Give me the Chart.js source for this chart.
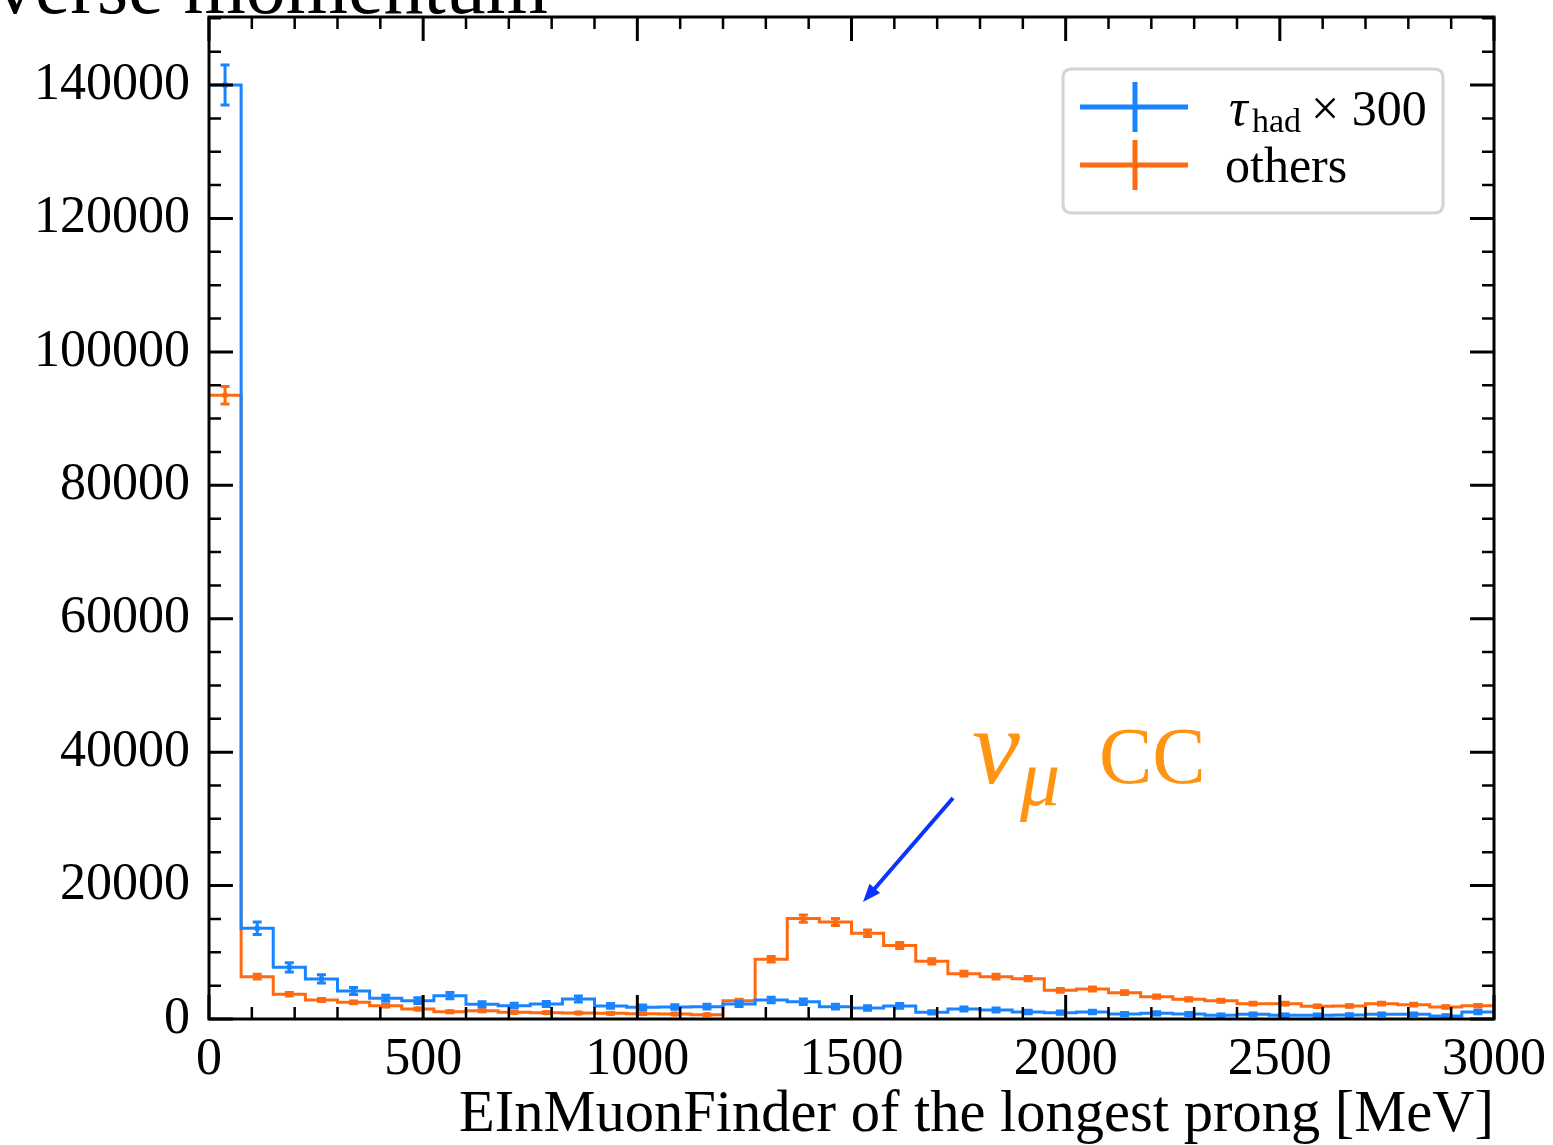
<!DOCTYPE html>
<html><head><meta charset="utf-8">
<script src="https://cdn.jsdelivr.net/npm/chart.js@4/dist/chart.umd.min.js"></script>
<style>html,body{margin:0;padding:0;background:#fff}#wrap{width:1553px;height:1145px;position:relative}</style>
</head><body><div id="wrap"><canvas id="c" width="1553" height="1145"></canvas></div>
<script>
// ---- data ----
const binEdges = [0,75,150,225,300,375,450,525,600,675,750,825,900,975,1050,1125,1200,1275,1350,1425,1500,1575,1650,1725,1800,1875,1950,2025,2100,2175,2250,2325,2400,2475,2550,2625,2700,2775,2850,2925,3000];
const tauHad = [140000,13600,7750,6000,4200,3100,2750,3500,2200,2000,2250,3000,1950,1750,1800,1850,2250,2850,2600,1850,1650,1950,1000,1500,1350,1050,950,1050,750,850,750,550,700,550,550,600,700,700,450,1050];
const tauHadErr = [2990,930,700,620,520,445,420,470,375,360,380,440,355,335,340,345,380,425,410,345,325,355,255,310,295,260,245,260,220,235,220,190,210,190,190,195,210,210,170,260];
const others = [93500,6350,3700,2850,2500,2000,1500,1100,1250,1000,950,900,850,800,750,650,2750,8950,15050,14550,12850,11000,8650,6800,6350,6050,4300,4500,3950,3350,2950,2750,2300,2300,1900,1950,2300,2150,1800,2000];
const othersErr = [1315,345,260,230,215,190,165,145,150,135,135,130,125,120,120,110,225,405,530,520,485,450,400,355,345,335,280,290,270,250,235,225,205,205,185,190,205,200,180,190];
const xTickLabels = [0,500,1000,1500,2000,2500,3000];
const yTickLabels = [0,20000,40000,60000,80000,100000,120000,140000];
const seriesNames = ['τ', 'others'];
const xTitle = 'EInMuonFinder of the longest prong [MeV]';

const BLUE = '#1a84ff';
const ORANGE = '#ff6a10';
const FONT = '"Liberation Serif", "DejaVu Serif", serif';

function stepPts(vals){
  const p = vals.map((v,i)=>({x:binEdges[i], y:v}));
  p.push({x:binEdges[binEdges.length-1], y:vals[vals.length-1]});
  return p;
}
function centerPts(vals){
  return vals.map((v,i)=>({x:(binEdges[i]+binEdges[i+1])/2, y:v}));
}

const errorBars = {
  id:'errorBars',
  afterDatasetDraw(chart, args){
    const ds = chart.data.datasets[args.index];
    if(!ds.errs) return;
    const ctx = chart.ctx, xs = chart.scales.x, ys = chart.scales.y, a = chart.chartArea;
    ctx.save();
    ctx.beginPath(); ctx.rect(a.left,a.top,a.right-a.left,a.bottom-a.top); ctx.clip();
    ctx.strokeStyle = ds.borderColor; ctx.lineWidth = 3;
    ds.data.forEach((p,i)=>{
      const x = xs.getPixelForValue(p.x);
      const y1 = ys.getPixelForValue(p.y - ds.errs[i]);
      const y2 = ys.getPixelForValue(p.y + ds.errs[i]);
      ctx.beginPath();
      ctx.moveTo(x,y1); ctx.lineTo(x,y2);
      ctx.moveTo(x-4.5,y1); ctx.lineTo(x+4.5,y1);
      ctx.moveTo(x-4.5,y2); ctx.lineTo(x+4.5,y2);
      ctx.stroke();
    });
    ctx.restore();
  }
};

const frameTicks = {
  id:'frameTicks',
  afterDraw(chart){
    const ctx = chart.ctx, xs = chart.scales.x, ys = chart.scales.y, a = chart.chartArea;
    ctx.save();
    ctx.strokeStyle = '#000';
    for(let v=0; v<=3000; v+=100){
      const x = xs.getPixelForValue(v);
      const major = v%500===0;
      const L = major?24:12;
      ctx.lineWidth = major?3:2.5;
      ctx.beginPath();
      ctx.moveTo(x,a.bottom); ctx.lineTo(x,a.bottom-L);
      ctx.moveTo(x,a.top); ctx.lineTo(x,a.top+L);
      ctx.stroke();
    }
    for(let v=0; v<=150000; v+=5000){
      const y = ys.getPixelForValue(v);
      const major = v%20000===0;
      const L = major?24:12;
      ctx.lineWidth = major?3:2.5;
      ctx.beginPath();
      ctx.moveTo(a.left,y); ctx.lineTo(a.left+L,y);
      ctx.moveTo(a.right,y); ctx.lineTo(a.right-L,y);
      ctx.stroke();
    }
    ctx.lineWidth = 3;
    ctx.strokeRect(a.left,a.top,a.right-a.left,a.bottom-a.top);

    // legend
    const bx=1063, by=69, bw=380, bh=144, r=9;
    ctx.beginPath();
    ctx.moveTo(bx+r,by); ctx.lineTo(bx+bw-r,by); ctx.quadraticCurveTo(bx+bw,by,bx+bw,by+r);
    ctx.lineTo(bx+bw,by+bh-r); ctx.quadraticCurveTo(bx+bw,by+bh,bx+bw-r,by+bh);
    ctx.lineTo(bx+r,by+bh); ctx.quadraticCurveTo(bx,by+bh,bx,by+bh-r);
    ctx.lineTo(bx,by+r); ctx.quadraticCurveTo(bx,by,bx+r,by); ctx.closePath();
    ctx.fillStyle='rgba(255,255,255,0.85)'; ctx.fill();
    ctx.strokeStyle='#d4d4d4'; ctx.lineWidth=3; ctx.stroke();
    const entry=(col,y)=>{
      ctx.strokeStyle=col; ctx.lineWidth=5;
      ctx.beginPath(); ctx.moveTo(1080,y); ctx.lineTo(1188,y);
      ctx.moveTo(1135,y-25); ctx.lineTo(1135,y+25); ctx.stroke();
    };
    entry(BLUE,107); entry(ORANGE,165);
    ctx.fillStyle='#000'; ctx.textBaseline='alphabetic'; ctx.textAlign='left';
    ctx.font='italic 52px '+FONT; ctx.fillText(seriesNames[0],1229,125);
    ctx.font='34px '+FONT; ctx.fillText('had',1252,132);
    ctx.font='50px '+FONT; ctx.fillText('× 300',1311,125);
    ctx.fillText(seriesNames[1],1225,182);

    // annotation
    ctx.fillStyle='#ff9410';
    ctx.font='italic 108px '+FONT; ctx.fillText('ν',972,783);
    ctx.font='italic 80px '+FONT; ctx.fillText('μ',1020,805);
    ctx.font='80px '+FONT; ctx.fillText('CC',1099,783);
    // arrow
    ctx.strokeStyle='#0a33ff'; ctx.fillStyle='#0a33ff'; ctx.lineWidth=4;
    const x1=953,y1=798,x2=863,y2=902;
    const ang=Math.atan2(y2-y1,x2-x1);
    ctx.beginPath(); ctx.moveTo(x1,y1); ctx.lineTo(x2-10*Math.cos(ang),y2-10*Math.sin(ang)); ctx.stroke();
    ctx.beginPath(); ctx.moveTo(x2,y2);
    ctx.lineTo(x2-18*Math.cos(ang)+7*Math.sin(ang), y2-18*Math.sin(ang)-7*Math.cos(ang));
    ctx.lineTo(x2-18*Math.cos(ang)-7*Math.sin(ang), y2-18*Math.sin(ang)+7*Math.cos(ang));
    ctx.closePath(); ctx.fill();

    // cropped heading from above
    ctx.fillStyle='#000'; ctx.textAlign='right';
    ctx.font='80px '+FONT; ctx.fillText('Transverse momentum',548,13);
    ctx.restore();
  }
};

new Chart(document.getElementById('c'), {
  type:'line',
  data:{datasets:[
    {data:stepPts(tauHad), borderColor:BLUE, borderWidth:3, stepped:'before', pointRadius:0, fill:false},
    {type:'scatter', data:centerPts(tauHad), errs:tauHadErr, borderColor:BLUE, backgroundColor:BLUE, pointStyle:'rect', pointRadius:3.5, borderWidth:0},
    {data:stepPts(others), borderColor:ORANGE, borderWidth:3, stepped:'before', pointRadius:0, fill:false},
    {type:'scatter', data:centerPts(others), errs:othersErr, borderColor:ORANGE, backgroundColor:ORANGE, pointStyle:'rect', pointRadius:3.5, borderWidth:0}
  ]},
  options:{
    responsive:false, animation:false, events:[],
    layout:{padding:{left:0,right:59,top:17,bottom:0}},
    plugins:{legend:{display:false}, tooltip:{enabled:false}},
    scales:{
      x:{type:'linear', min:0, max:3000,
        afterBuildTicks:s=>{s.ticks = xTickLabels.map(v=>({value:v}));},
        afterFit:s=>{s.height=126; s.paddingLeft=0; s.paddingRight=0;},
        grid:{display:false, drawTicks:false}, border:{display:false},
        ticks:{color:'#000', font:{family:FONT,size:52}, padding:10, maxRotation:0, autoSkip:false, callback:v=>String(v)},
        title:{display:true, text:xTitle, align:'end', color:'#000', font:{family:FONT,size:58.5, lineHeight:1.0}, padding:{top:0,bottom:0}}
      },
      y:{type:'linear', min:0, max:150200,
        afterBuildTicks:s=>{s.ticks = yTickLabels.map(v=>({value:v}));},
        afterFit:s=>{s.width=209; s.paddingTop=0; s.paddingBottom=0;},
        grid:{display:false, drawTicks:false}, border:{display:false},
        ticks:{color:'#000', font:{family:FONT,size:52}, padding:19, autoSkip:false, callback:v=>String(v)}
      }
    }
  },
  plugins:[errorBars, frameTicks]
});
</script></body></html>
